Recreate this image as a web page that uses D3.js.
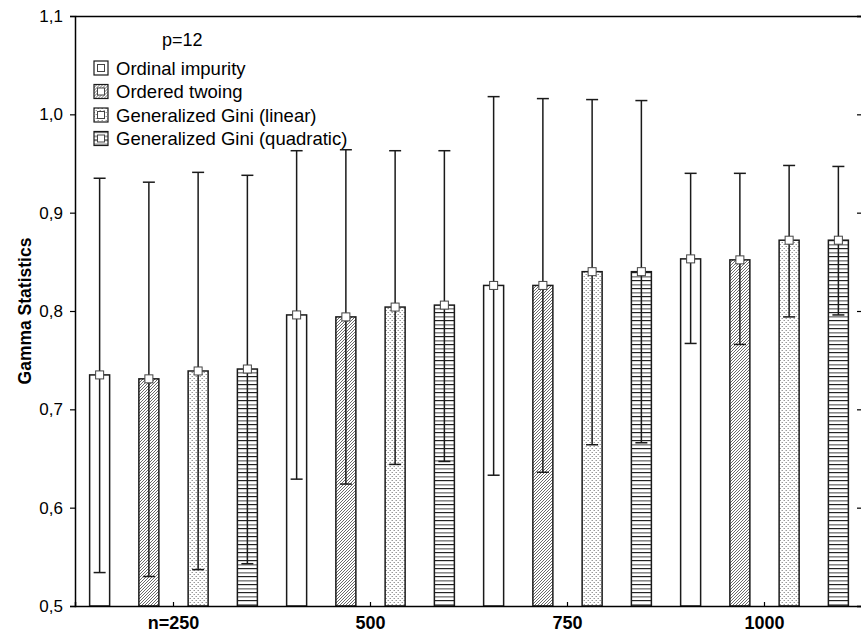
<!DOCTYPE html>
<html>
<head>
<meta charset="utf-8">
<script src="https://cdn.jsdelivr.net/npm/d3@7"></script>
<style>
  body { margin: 0; background: #fff; }
  text { font-family: "Liberation Sans", Arial, sans-serif; }
</style>
</head>
<body>
<svg id="chart" width="861" height="637"></svg>
<script>
// groups on the x axis and the four split criteria
const groups = ["n=250", "500", "750", "1000"];
const series = ["Ordinal impurity", "Ordered twoing", "Generalized Gini (linear)", "Generalized Gini (quadratic)"];
const yTicks = [0.5, 0.6, 0.7, 0.8, 0.9, 1.0, 1.1];

// mean gamma per series (one value per group)
const meanOrdinal   = [0.735, 0.796, 0.826, 0.853];
const meanTwoing    = [0.731, 0.794, 0.826, 0.852];
const meanGiniLin   = [0.739, 0.804, 0.840, 0.872];
const meanGiniQuad  = [0.741, 0.806, 0.840, 0.872];

// whisker ends
const upperOrdinal  = [0.935, 0.963, 1.018, 0.940];
const upperTwoing   = [0.931, 0.964, 1.016, 0.940];
const upperGiniLin  = [0.941, 0.963, 1.015, 0.948];
const upperGiniQuad = [0.938, 0.963, 1.014, 0.947];

const lowerOrdinal  = [0.534, 0.629, 0.633, 0.767];
const lowerTwoing   = [0.530, 0.624, 0.636, 0.766];
const lowerGiniLin  = [0.537, 0.644, 0.664, 0.794];
const lowerGiniQuad = [0.543, 0.647, 0.666, 0.796];

const means  = [meanOrdinal, meanTwoing, meanGiniLin, meanGiniQuad];
const uppers = [upperOrdinal, upperTwoing, upperGiniLin, upperGiniQuad];
const lowers = [lowerOrdinal, lowerTwoing, lowerGiniLin, lowerGiniQuad];

const rows = [];
groups.forEach((g, gi) => {
  series.forEach((s, si) => {
    rows.push({ group: g, series: s, si: si, mean: means[si][gi], hi: uppers[si][gi], lo: lowers[si][gi] });
  });
});

const svg = d3.select("#chart");
const mLeft = 75, mRight = 863, mTop = 16, mBottom = 606;

const x = d3.scaleBand().domain(groups).range([mLeft, mRight]);
const xs = d3.scaleBand().domain(series).range([0, x.bandwidth()]);
const y = d3.scaleLinear().domain([0.5, 1.1]).range([mBottom, mTop]);
const barW = 20;
const cx = d => x(d.group) + xs(d.series) + xs.bandwidth() / 2;

// fill patterns
const defs = svg.append("defs");
const p1 = defs.append("pattern").attr("id", "pat1").attr("patternUnits", "userSpaceOnUse")
  .attr("width", 3).attr("height", 3);
p1.append("rect").attr("width", 3).attr("height", 3).attr("fill", "#fff");
p1.append("path").attr("d", "M-1,1 L1,-1 M0,3 L3,0 M2,4 L4,2").attr("stroke", "#6a6a6a").attr("stroke-width", 1);

const p2 = defs.append("pattern").attr("id", "pat2").attr("patternUnits", "userSpaceOnUse")
  .attr("width", 4).attr("height", 4);
p2.append("rect").attr("width", 4).attr("height", 4).attr("fill", "#fff");
p2.append("rect").attr("x", 0).attr("y", 0).attr("width", 1).attr("height", 1).attr("fill", "#999");
p2.append("rect").attr("x", 2).attr("y", 2).attr("width", 1).attr("height", 1).attr("fill", "#999");
p2.append("rect").attr("x", 1).attr("y", 2).attr("width", 1).attr("height", 1).attr("fill", "#ccc");
p2.append("rect").attr("x", 3).attr("y", 0).attr("width", 1).attr("height", 1).attr("fill", "#ccc");

const p3 = defs.append("pattern").attr("id", "pat3").attr("patternUnits", "userSpaceOnUse")
  .attr("width", 8).attr("height", 8);
p3.append("rect").attr("width", 8).attr("height", 8).attr("fill", "#fff");
p3.append("rect").attr("y", 0).attr("width", 8).attr("height", 1.2).attr("fill", "#222");
p3.append("rect").attr("y", 4).attr("width", 8).attr("height", 1.6).attr("fill", "#8a8a8a");

const fills = ["#fff", "url(#pat1)", "url(#pat2)", "url(#pat3)"];

// bars
svg.append("g").selectAll("rect").data(rows).join("rect")
  .attr("x", d => cx(d) - barW / 2)
  .attr("y", d => y(d.mean))
  .attr("width", barW)
  .attr("height", d => y(0.5) - y(d.mean))
  .attr("fill", d => fills[d.si])
  .attr("stroke", "#1a1a1a")
  .attr("stroke-width", 1.5);

// whiskers
const wg = svg.append("g").attr("stroke", "#1a1a1a").attr("stroke-width", 1.5);
wg.selectAll("line.v").data(rows).join("line").attr("class", "v")
  .attr("x1", cx).attr("x2", cx)
  .attr("y1", d => y(d.lo)).attr("y2", d => y(d.hi));
wg.selectAll("line.hi").data(rows).join("line").attr("class", "hi")
  .attr("x1", d => cx(d) - 6).attr("x2", d => cx(d) + 6)
  .attr("y1", d => y(d.hi)).attr("y2", d => y(d.hi));
wg.selectAll("line.lo").data(rows).join("line").attr("class", "lo")
  .attr("x1", d => cx(d) - 6).attr("x2", d => cx(d) + 6)
  .attr("y1", d => y(d.lo)).attr("y2", d => y(d.lo));

// mean markers
svg.append("g").selectAll("rect").data(rows).join("rect")
  .attr("x", d => cx(d) - 4)
  .attr("y", d => y(d.mean) - 4)
  .attr("width", 8).attr("height", 8)
  .attr("fill", "#fff").attr("stroke", "#444").attr("stroke-width", 1);

// axes
const fmt = d => d3.format(".1f")(d).replace(".", ",");
const ax = svg.append("g").attr("transform", `translate(${mLeft},0)`)
  .call(d3.axisLeft(y).tickValues(yTicks).tickFormat(fmt).tickSize(5).tickPadding(7));
ax.selectAll("text").attr("font-size", 17).attr("fill", "#000");

const axr = svg.append("g").attr("transform", `translate(${mRight},0)`)
  .call(d3.axisRight(y).tickValues(yTicks).tickFormat("").tickSize(-6));

const axb = svg.append("g").attr("transform", `translate(0,${mBottom})`)
  .call(d3.axisBottom(x).tickSize(-4).tickPadding(10));
axb.selectAll("text").attr("font-size", 18).attr("font-weight", "bold").attr("fill", "#000");

const axt = svg.append("g").attr("transform", `translate(0,${mTop})`)
  .call(d3.axisTop(x).tickValues([]).tickSize(0));

svg.selectAll(".domain").attr("stroke", "#000").attr("stroke-width", 1.5);
svg.selectAll(".tick line").attr("stroke", "#000").attr("stroke-width", 1.2);

// y axis title
svg.append("text")
  .attr("transform", `translate(31,${(mTop + mBottom) / 2}) rotate(-90)`)
  .attr("text-anchor", "middle")
  .attr("font-size", 17.5).attr("font-weight", "bold")
  .text("Gamma Statistics");

// legend
svg.append("text").attr("x", 162).attr("y", 46).attr("font-size", 18).text("p=12");
const lg = svg.append("g").selectAll("g").data(series).join("g")
  .attr("transform", (d, i) => `translate(94,${61 + i * 23.5})`);
lg.append("rect").attr("width", 14).attr("height", 14)
  .attr("fill", (d, i) => fills[i]).attr("stroke", "#1a1a1a").attr("stroke-width", 1.2);
lg.append("rect").attr("x", 3.5).attr("y", 3.5).attr("width", 7).attr("height", 7)
  .attr("fill", "#fff").attr("stroke", "#444").attr("stroke-width", 1);
lg.append("text").attr("x", 22).attr("y", 13.5).attr("font-size", 18.5).text(d => d);
</script>
</body>
</html>
